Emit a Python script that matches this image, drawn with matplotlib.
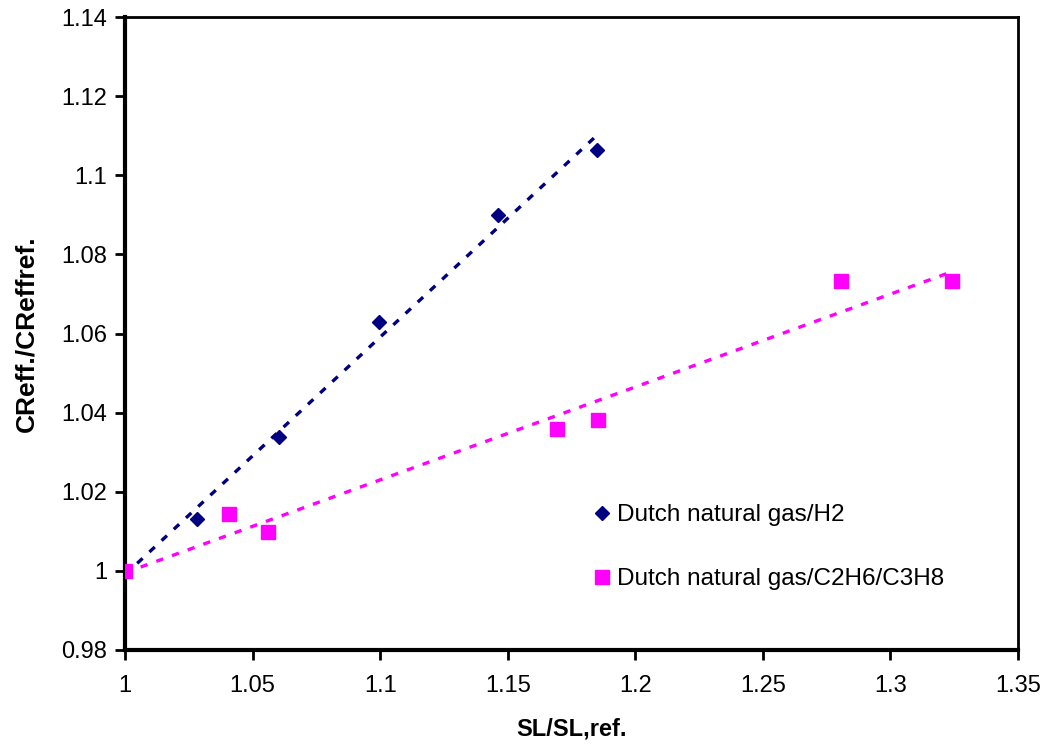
import numpy as np
import matplotlib.pyplot as plt
from matplotlib.ticker import MultipleLocator

plt.rcParams['font.family'] = ['Liberation Sans', 'DejaVu Sans']

# Dutch natural gas / H2 (navy diamonds)
h2_x = [1.0, 1.0281, 1.0604, 1.0997, 1.1463, 1.1849]
h2_y = [1.0, 1.0130, 1.0339, 1.0628, 1.0900, 1.1064]

# Dutch natural gas / C2H6 / C3H8 (magenta squares)
hc_x = [1.0, 1.0409, 1.0562, 1.1695, 1.1855, 1.2808, 1.3240]
hc_y = [1.0, 1.0144, 1.0099, 1.0358, 1.0381, 1.0733, 1.0733]

navy = '#000080'
magenta = '#FF00FF'


def tick_fmt(v, pos):
    # excel style: 1, 1.05, 1.1 ...
    return f"{v:.2f}".rstrip('0').rstrip('.')


fig = plt.figure(figsize=(10.4, 7.53), dpi=100)
ax = fig.add_axes([0.1202, 0.1368, 0.8586, 0.8406])

# linear trendlines (least squares, like the spreadsheet trendline)
for xs, ys, col in [(h2_x, h2_y, navy), (hc_x, hc_y, magenta)]:
    k, b = np.polyfit(xs, ys, 1)
    xl = np.array([min(xs), max(xs)])
    ax.plot(xl, k * xl + b, color=col, lw=2.4, dashes=(2.2, 2.8), zorder=2)

ax.plot(h2_x, h2_y, 'D', color=navy, ms=7.5, ls='none',
        label='Dutch natural gas/H2', zorder=3)
ax.plot(hc_x, hc_y, 's', color=magenta, ms=10.5, ls='none',
        label='Dutch natural gas/C2H6/C3H8', zorder=3)

ax.set_xlim(1.0, 1.35)
ax.set_ylim(0.98, 1.14)
ax.xaxis.set_major_locator(MultipleLocator(0.05))
ax.yaxis.set_major_locator(MultipleLocator(0.02))
ax.xaxis.set_major_formatter(plt.FuncFormatter(tick_fmt))
ax.yaxis.set_major_formatter(plt.FuncFormatter(tick_fmt))

for side in ['left', 'bottom']:
    ax.spines[side].set_linewidth(3)
for side in ['top', 'right']:
    ax.spines[side].set_linewidth(2)

ax.tick_params(axis='both', direction='out', length=7, width=2,
               labelsize=17, color='black')
ax.tick_params(axis='x', pad=11)
ax.tick_params(axis='y', pad=6)

ax.set_xlabel('SL/SL,ref.', fontsize=17, fontweight='bold', labelpad=15)
ax.set_ylabel('CReff./CReffref.', fontsize=19, fontweight='bold', labelpad=16)

leg = ax.legend(loc='center left', bbox_to_anchor=(0.523, 0.162),
                frameon=False, fontsize=17.5, handlelength=0.8,
                handletextpad=0.22, labelspacing=1.73, borderpad=0,
                borderaxespad=0, markerscale=0.9)

fig.savefig('out.png', dpi=100)
